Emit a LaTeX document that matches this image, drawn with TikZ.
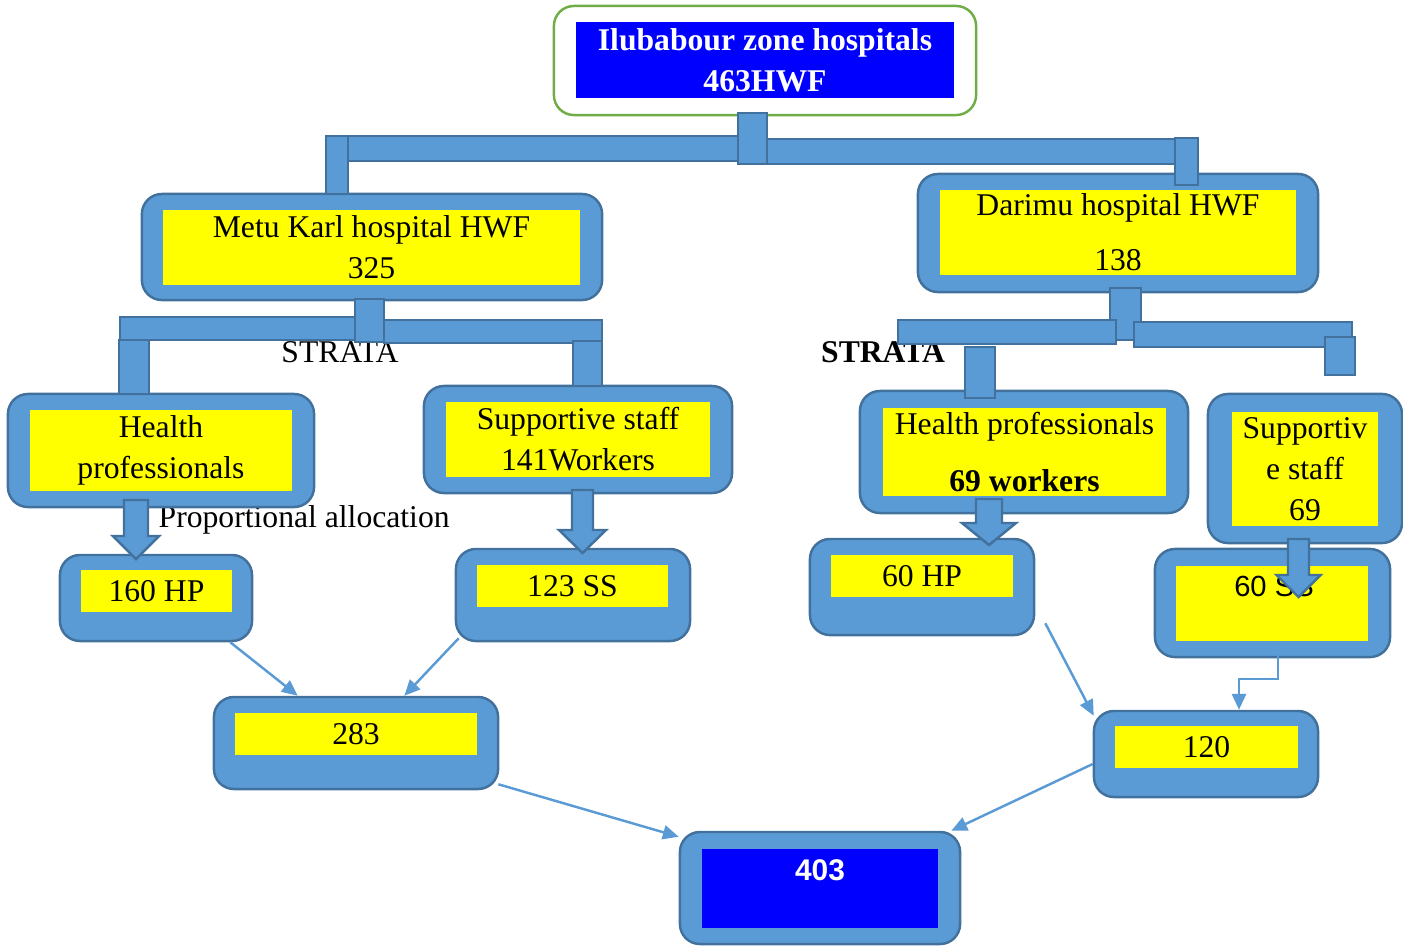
\documentclass[tikz,border=0pt]{standalone}
\usepackage{fontspec}
\setmainfont{Liberation Serif}
\newfontfamily\labelsans{Liberation Sans}
\usetikzlibrary{arrows.meta,calc}
\definecolor{shellfill}{HTML}{5B9BD5}
\definecolor{shellline}{HTML}{41719C}
\definecolor{titleline}{HTML}{70AD47}
\definecolor{deepblue}{HTML}{0000FF}
\definecolor{tagyellow}{HTML}{FFFF00}
\tikzset{
  shell/.style={draw=shellline, fill=shellfill, line width=0.7pt, rounded corners=0.2cm, inner sep=0pt},
  tag/.style={fill=tagyellow, inner sep=0pt, align=center, font=\fontsize{9}{11.7}\selectfont},
  bar/.style={draw=shellline, fill=shellfill, line width=0.7pt},
  link/.style={draw=shellfill, line width=0.7pt, -{Triangle[length=4.5pt,width=4pt]}},
  strata/.style={font=\fontsize{9}{11.7}\selectfont, inner sep=0pt, anchor=base},
}
\begin{document}
\begin{tikzpicture}[x=0.01cm, y=-0.01cm]
\useasboundingbox (0,0) rectangle (1403,945);

% zone
\node[shell, draw=titleline, fill=white, minimum width=4.22cm, minimum height=1.09cm] (zone) at (765,60.5) {};
\node[tag, fill=deepblue, text=white, font=\fontsize{9}{11.7}\selectfont\bfseries, minimum width=3.78cm, minimum height=0.76cm] (zonetag) at (765,60) {Ilubabour zone hospitals\\463HWF};

% hospitals
\node[shell, minimum width=4.60cm, minimum height=1.06cm] (metu) at (372,247) {};
\node[tag, minimum width=4.17cm, minimum height=0.75cm] (metutag) at (371.5,247.5) {Metu Karl hospital HWF\\325};
\node[shell, minimum width=4.00cm, minimum height=1.18cm] (darimu) at (1118,233) {};
\node[tag, minimum width=3.56cm, minimum height=0.85cm] (darimutag) at (1118,232.5) {Darimu hospital HWF\\[4pt]138};

% strata
\node[strata] (strataL) at (340,362) {STRATA};
\node[strata, font=\fontsize{9}{11.7}\selectfont\bfseries] (strataR) at (883,362) {STRATA};
\node[strata, anchor=base west] (propalloc) at (158,527) {Proportional allocation};

\node[shell, minimum width=3.06cm, minimum height=1.13cm] (hpl) at (161,450.5) {};
\node[tag, minimum width=2.62cm, minimum height=0.81cm] (hpltag) at (161,450.5) {Health\\professionals};
\node[shell, minimum width=3.08cm, minimum height=1.07cm] (ssl) at (578,439.5) {};
\node[tag, minimum width=2.64cm, minimum height=0.75cm] (ssltag) at (578,439.5) {Supportive staff\\141Workers};
\node[shell, minimum width=3.28cm, minimum height=1.22cm] (hpr) at (1024,452) {};
\node[tag, minimum width=2.83cm, minimum height=0.88cm] (hprtag) at (1024.5,452) {Health professionals\\[4.5pt]\textbf{69 workers}};
\node[shell, minimum width=1.94cm, minimum height=1.49cm] (ssr) at (1305,468.5) {};
\node[tag, minimum width=1.46cm, minimum height=1.14cm] (ssrtag) at (1305,469) {Supportiv\\e staff\\69};

% allocation
\node[shell, minimum width=1.92cm, minimum height=0.86cm] (hp160) at (156,598) {};
\node[tag, minimum width=1.51cm, minimum height=0.42cm] (hp160tag) at (156.5,591) {160 HP};
\node[shell, minimum width=2.34cm, minimum height=0.92cm] (ss123) at (573,595) {};
\node[tag, minimum width=1.91cm, minimum height=0.42cm] (ss123tag) at (572.5,586) {123 SS};
\node[shell, minimum width=2.24cm, minimum height=0.96cm] (hp60) at (922,587) {};
\node[tag, minimum width=1.82cm, minimum height=0.42cm] (hp60tag) at (922,576) {60 HP};
\node[shell, minimum width=2.35cm, minimum height=1.08cm] (ss60) at (1272.5,603) {};
\node[tag, minimum width=1.92cm, minimum height=0.75cm] (ss60tag) at (1272,603.5) {};
\node[font=\labelsans\fontsize{8.3}{10}\selectfont, inner sep=0pt] (ss60txt) at (1274,586) {60 SS};

% sums
\node[shell, minimum width=2.84cm, minimum height=0.92cm] (sum283) at (356,743) {};
\node[tag, minimum width=2.42cm, minimum height=0.42cm] (sum283tag) at (356,734) {283};
\node[shell, minimum width=2.24cm, minimum height=0.86cm] (sum120) at (1206,754) {};
\node[tag, minimum width=1.83cm, minimum height=0.42cm] (sum120tag) at (1206.5,747) {120};
\node[shell, minimum width=2.80cm, minimum height=1.12cm] (total) at (820,888) {};
\node[tag, fill=deepblue, minimum width=2.36cm, minimum height=0.79cm] (totaltag) at (820,888.5) {};
\node[font=\labelsans\bfseries\fontsize{8.5}{10}\selectfont, text=white, inner sep=0pt] (totaltxt) at (820,870) {403};

% bars
\draw[bar] (326,136) rectangle (348,194);
\draw[bar] (348,136) rectangle (738,161);
\draw[bar] (767,139) rectangle (1175,164);
\draw[bar] (738,113) rectangle (767,164);
\draw[bar] (1175,138) rectangle (1198,185);

\draw[bar] (355,299) rectangle (384,342);
\draw[bar] (120,317) rectangle (355,340);
\draw[bar] (384,320) rectangle (602,343);
\draw[bar] (119,340) rectangle (149,394);
\draw[bar] (573,341) rectangle (602,386);

\draw[bar] (1110,288) rectangle (1141,340);
\draw[bar] (898,320) rectangle (1116,344);
\draw[bar] (1134,322) rectangle (1352,347);
\draw[bar] (965,347) rectangle (995,398);
\draw[bar] (1325,337) rectangle (1355,375);

% block arrows
\foreach \cx/\ytop/\yneck/\ytip/\shaft/\head in {136/500/536/559/12/23, 582.5/490/530/553/10.5/23.5, 989/499/523/545/13/27, 1298.5/539/575/597/10.5/22}
  \draw[bar] (\cx-\shaft,\ytop) -- (\cx+\shaft,\ytop) -- (\cx+\shaft,\yneck) -- (\cx+\head,\yneck)
    -- (\cx,\ytip) -- (\cx-\head,\yneck) -- (\cx-\shaft,\yneck) -- cycle;

% links
\draw[link] ($(hp160.south east)+(-23,0)$) -- ($(sum283.north west)+(85,0)$);
\draw[link] ($(ss123.south west)+(4,-4)$) -- ($(sum283.north east)+(-95,0)$);
\draw[link] ($(sum283.south east)+(-1,-6)$) -- ($(total.north west)+(0,6)$);
\draw[link] ($(hp60.south east)+(10,-13)$) -- ($(sum120.north west)+(1,6)$);
\draw[link] ($(ss60tag.south)+(6,0)$) -- ++(0,37) -| ($(sum120.north)+(33,0)$);
\draw[link] ($(sum120.west)+(0,10)$) -- ($(total.north east)+(-10,0)$);
\end{tikzpicture}
\end{document}
